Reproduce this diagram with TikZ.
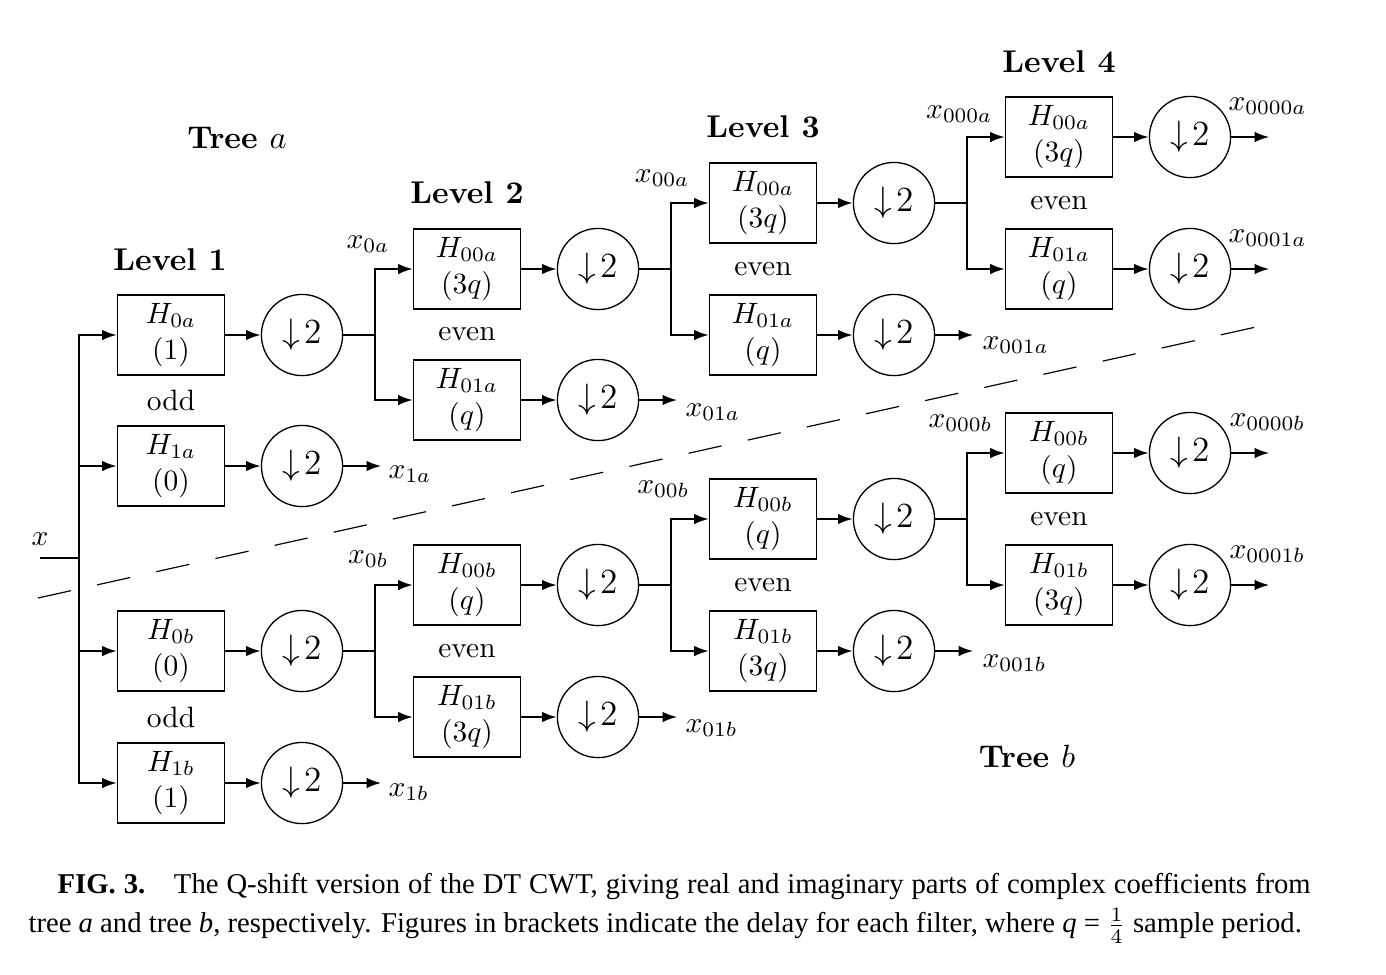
\documentclass[tikz,border=0pt]{standalone}
\usepackage{fontspec}
\newfontfamily\capfont{Liberation Serif}
\usetikzlibrary{arrows.meta}

\tikzset{
  filt/.style = {draw = black, line width = 0.45pt, minimum width = 36.4pt,
    minimum height = 27.2pt, inner sep = 0pt, align = center,
    font = \fontsize{10}{12.4}\selectfont},
  dec/.style = {draw = black, circle, line width = 0.45pt, minimum size = 27.6pt,
    inner sep = 0pt, font = \large},
  conn/.style = {line width = 0.7pt},
  arr/.style = {conn, -{Latex[length = 5pt, width = 3.6pt]}},
  lvl/.style = {anchor = base, font = \fontsize{10.7}{12}\selectfont\bfseries},
  lab/.style = {inner sep = 0pt},
}
\newcommand{\dn}{${\downarrow}\mkern2mu 2$}

\begin{document}
\begin{tikzpicture}[x = 0.34pt, y = -0.34pt]
    \useasboundingbox (0, 0) rectangle (1386, 974);

    % level 1
    \node [filt] (b0a) at (171, 335) {$H_{0a}$ \\ $(1)$};
    \node [filt] (b1a) at (171, 466) {$H_{1a}$ \\ $(0)$};
    \node [filt] (b0b) at (171, 651) {$H_{0b}$ \\ $(0)$};
    \node [filt] (b1b) at (171, 783) {$H_{1b}$ \\ $(1)$};
    \node [dec] (d0a) at (302, 335) {\dn};
    \node [dec] (d1a) at (302, 466) {\dn};
    \node [dec] (d0b) at (302, 651) {\dn};
    \node [dec] (d1b) at (302, 783) {\dn};

    % level 2
    \node [filt] (b00a) at (467, 269) {$H_{00a}$ \\ $(3q)$};
    \node [filt] (b01a) at (467, 400) {$H_{01a}$ \\ $(q)$};
    \node [filt] (b00b) at (467, 585) {$H_{00b}$ \\ $(q)$};
    \node [filt] (b01b) at (467, 717) {$H_{01b}$ \\ $(3q)$};
    \node [dec] (d00a) at (598, 269) {\dn};
    \node [dec] (d01a) at (598, 400) {\dn};
    \node [dec] (d00b) at (598, 585) {\dn};
    \node [dec] (d01b) at (598, 717) {\dn};

    % level 3
    \node [filt] (b000a) at (763, 203) {$H_{00a}$ \\ $(3q)$};
    \node [filt] (b001a) at (763, 335) {$H_{01a}$ \\ $(q)$};
    \node [filt] (b000b) at (763, 519) {$H_{00b}$ \\ $(q)$};
    \node [filt] (b001b) at (763, 651) {$H_{01b}$ \\ $(3q)$};
    \node [dec] (d000a) at (894, 203) {\dn};
    \node [dec] (d001a) at (894, 335) {\dn};
    \node [dec] (d000b) at (894, 519) {\dn};
    \node [dec] (d001b) at (894, 651) {\dn};

    % level 4
    \node [filt] (b0000a) at (1059, 137) {$H_{00a}$ \\ $(3q)$};
    \node [filt] (b0001a) at (1059, 269) {$H_{01a}$ \\ $(q)$};
    \node [filt] (b0000b) at (1059, 453) {$H_{00b}$ \\ $(q)$};
    \node [filt] (b0001b) at (1059, 585) {$H_{01b}$ \\ $(3q)$};
    \node [dec] (d0000a) at (1190, 137) {\dn};
    \node [dec] (d0001a) at (1190, 269) {\dn};
    \node [dec] (d0000b) at (1190, 453) {\dn};
    \node [dec] (d0001b) at (1190, 585) {\dn};

    % input and first split
    \coordinate (x) at (40, 558);
    \coordinate (s) at (79, 558);
    \draw [conn] (x) -- (s);
    \foreach \n in {0a, 1a, 0b, 1b}
      \draw [arr] (s) |- (b\n);

    \foreach \n in {0a, 1a, 0b, 1b, 00a, 01a, 00b, 01b, 000a, 001a, 000b, 001b,
                    0000a, 0001a, 0000b, 0001b}
      \draw [arr] (b\n) -- (d\n);

    \foreach \p/\t in {0/a, 0/b, 00/a, 00/b, 000/a, 000/b} {
      \draw [conn] (d\p\t.east) -- ++(32, 0) coordinate (s\p\t);
      \draw [arr] (s\p\t) |- (b\p0\t);
      \draw [arr] (s\p\t) |- (b\p1\t);
    }

    \foreach \n in {1a, 1b, 01a, 01b, 001a, 001b, 0000a, 0001a, 0000b, 0001b}
      \draw [arr] (d\n.east) -- ++(38, 0) coordinate (o\n);

    % signal labels
    \node [lab, anchor = base west] (lx) at (31, 545) {$x$};
    \node [lab, anchor = base east] (lx0a) at (390, 248) {$x_{0a}$};
    \node [lab, anchor = base east] (lx00a) at (690, 182) {$x_{00a}$};
    \node [lab, anchor = base east] (lx000a) at (993, 118) {$x_{000a}$};
    \node [lab, anchor = base east] (lx0b) at (389, 563) {$x_{0b}$};
    \node [lab, anchor = base east] (lx00b) at (690, 493) {$x_{00b}$};
    \node [lab, anchor = base east] (lx000b) at (993, 427) {$x_{000b}$};

    \node [lab, anchor = base west] (lx1a) at (388, 478) {$x_{1a}$};
    \node [lab, anchor = base west] (lx01a) at (685, 416) {$x_{01a}$};
    \node [lab, anchor = base west] (lx001a) at (982, 349) {$x_{001a}$};
    \node [lab, anchor = base west] (lx0000a) at (1228, 110) {$x_{0000a}$};
    \node [lab, anchor = base west] (lx0001a) at (1228, 242) {$x_{0001a}$};
    \node [lab, anchor = base west] (lx1b) at (388, 796) {$x_{1b}$};
    \node [lab, anchor = base west] (lx01b) at (685, 732) {$x_{01b}$};
    \node [lab, anchor = base west] (lx001b) at (982, 667) {$x_{001b}$};
    \node [lab, anchor = base west] (lx0000b) at (1229, 426) {$x_{0000b}$};
    \node [lab, anchor = base west] (lx0001b) at (1229, 558) {$x_{0001b}$};

    % odd / even
    \node (odda) at (171, 400) {odd};
    \node (oddb) at (171, 717) {odd};
    \node (even2a) at (467, 334) {even};
    \node (even2b) at (467, 651) {even};
    \node (even3a) at (763, 269) {even};
    \node (even3b) at (763, 585) {even};
    \node (even4a) at (1059, 203) {even};
    \node (even4b) at (1059, 519) {even};

    % headings
    \node [lvl] (lev1) at (170, 270) {Level 1};
    \node [lvl] (lev2) at (467, 203) {Level 2};
    \node [lvl] (lev3) at (763, 137) {Level 3};
    \node [lvl] (lev4) at (1059, 72) {Level 4};
    \node [lvl] (treea) at (237, 148) {Tree $a$};
    \node [lvl] (treeb) at (1027, 767) {Tree $b$};

    % separation of the two trees
    \coordinate (cutL) at (38, 598);
    \coordinate (cutR) at (1256, 327);
    \draw [line width = 0.4pt, dash pattern = on 11.5pt off 9.1pt] (cutL) -- (cutR);

    % caption
    \node [anchor = north west, inner sep = 0pt, text width = 435.9pt, align = justify,
      font = \capfont\fontsize{9.75}{13.3}\selectfont] (cap) at (28, 873)
      {\hspace*{9.9pt}\textbf{FIG.~3.}\quad The Q-shift version of the DT CWT, giving
       real and imaginary parts of complex coefficients from\linebreak tree \textit{a}
       and tree \textit{b}, respectively. Figures in brackets indicate the delay for
       each filter, where \textit{q} = $\frac{1}{4}$ sample period.};
\end{tikzpicture}
\end{document}
